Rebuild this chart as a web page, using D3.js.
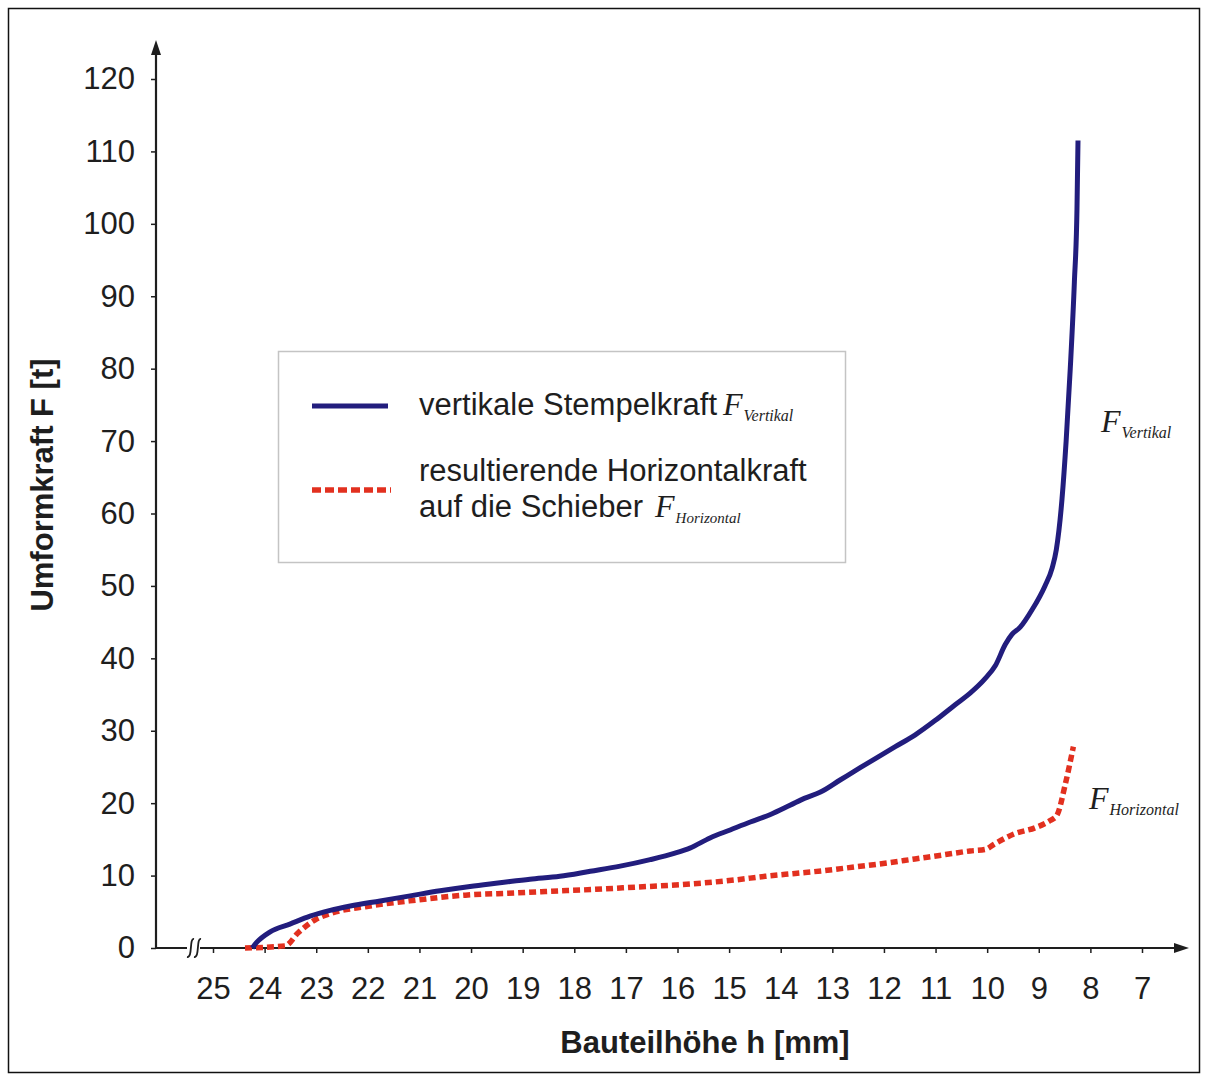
<!DOCTYPE html>
<html>
<head>
<meta charset="utf-8">
<script src="https://cdn.jsdelivr.net/npm/d3@7/dist/d3.min.js"></script>
<style>
  html, body { margin: 0; padding: 0; background: #fff; }
  svg { display: block; }
  .sans { font-family: "Liberation Sans", Arial, Helvetica, sans-serif; fill: #1e1e1e; }
  .serif { font-family: "Liberation Serif", "Times New Roman", serif; font-style: italic; fill: #1e1e1e; }
</style>
</head>
<body>
<script>
// Bauteilhöhe h [mm] and vertical punch force F [t]
const hVertikal = [24.24, 24.15, 23.90, 23.51, 23.12, 22.73, 22.34, 21.76, 21.18, 20.60, 20.02,
  19.44, 18.86, 18.28, 17.69, 17.11, 16.53, 16.05, 15.76, 15.37, 14.98, 14.59, 14.21, 13.82,
  13.53, 13.24, 12.85, 12.46, 12.11, 11.78, 11.40, 11.01, 10.62, 10.33, 10.04, 9.84, 9.65,
  9.52, 9.36, 9.13, 8.88, 8.74, 8.66, 8.55, 8.47, 8.39, 8.31, 8.26, 8.24];
const fVertikal = [0, 0.8, 2.2, 3.3, 4.4, 5.2, 5.8, 6.5, 7.2, 7.9, 8.5,
  9.0, 9.5, 9.9, 10.6, 11.3, 12.2, 13.1, 13.8, 15.2, 16.3, 17.4, 18.4, 19.7,
  20.7, 21.5, 23.2, 24.9, 26.4, 27.8, 29.4, 31.4, 33.6, 35.2, 37.2, 39.0, 41.9,
  43.3, 44.3, 46.7, 50.0, 52.5, 55.0, 62.0, 70.0, 80.0, 92.0, 102.0, 111.5];

// Bauteilhöhe h [mm] and resulting horizontal force on the slides F [t]
const hHorizontal = [24.38, 23.60, 23.35, 23.02, 22.71, 22.05, 21.08, 20.11, 19.15, 18.56,
  17.59, 16.82, 16.05, 15.47, 14.88, 14.30, 13.72, 13.14, 12.56, 11.98, 11.40, 10.81,
  10.33, 10.04, 9.85, 9.46, 9.07, 8.78, 8.65, 8.49, 8.33];
const fHorizontal = [0, 0.3, 2.1, 3.9, 4.8, 5.7, 6.6, 7.3, 7.6, 7.8,
  8.1, 8.4, 8.7, 9.0, 9.4, 9.9, 10.3, 10.7, 11.2, 11.7, 12.3, 12.9,
  13.4, 13.6, 14.4, 15.8, 16.6, 17.6, 18.3, 22.5, 27.8];

const xTicks = [25, 24, 23, 22, 21, 20, 19, 18, 17, 16, 15, 14, 13, 12, 11, 10, 9, 8, 7];
const yTicks = [0, 10, 20, 30, 40, 50, 60, 70, 80, 90, 100, 110, 120];

const W = 1208, H = 1081;
const ink = "#1e1e1e";
const blue = "#221d7d";
const red = "#e2301f";
const fs = 31;

const svg = d3.select("body").append("svg").attr("width", W).attr("height", H);

// outer frame
svg.append("rect").attr("x", 8.5).attr("y", 8.5).attr("width", 1191).attr("height", 1064)
  .attr("fill", "none").attr("stroke", "#111").attr("stroke-width", 1.5);

const x = d3.scaleLinear().domain([25, 7]).range([213, 1142]);
const y = d3.scaleLinear().domain([0, 120]).range([948, 79]);
const x0 = 156, y0 = 948;

// y axis
const yAxis = svg.append("g").attr("transform", `translate(${x0},0)`)
  .call(d3.axisLeft(y).tickValues(yTicks).tickSize(5).tickPadding(16));
yAxis.select(".domain").remove();
yAxis.selectAll(".tick line").attr("stroke", ink).attr("stroke-width", 1.5);
yAxis.selectAll(".tick text").attr("class", "sans").attr("font-size", fs).attr("fill", ink);
svg.append("line").attr("x1", x0).attr("x2", x0).attr("y1", y0 + 1).attr("y2", 52)
  .attr("stroke", ink).attr("stroke-width", 2.2);
svg.append("path").attr("d", `M${x0},40 L${x0 - 5},55 L${x0 + 5},55 Z`).attr("fill", ink);

// x axis
const xAxis = svg.append("g").attr("transform", `translate(0,${y0})`)
  .call(d3.axisBottom(x).tickValues(xTicks).tickFormat(d3.format("d")).tickSize(5).tickPadding(24));
xAxis.select(".domain").remove();
xAxis.selectAll(".tick line").attr("stroke", ink).attr("stroke-width", 1.5);
xAxis.selectAll(".tick text").attr("class", "sans").attr("font-size", fs).attr("fill", ink);
svg.append("line").attr("x1", x0 - 1).attr("x2", 1176).attr("y1", y0).attr("y2", y0)
  .attr("stroke", ink).attr("stroke-width", 2.2);
svg.append("path").attr("d", `M1189,${y0} L1174,${y0 - 5} L1174,${y0 + 5} Z`).attr("fill", ink);

// axis break marks
svg.append("rect").attr("x", 187).attr("y", y0 - 2).attr("width", 13).attr("height", 4).attr("fill", "#fff");
[190, 197].forEach(bx => {
  svg.append("path")
    .attr("d", `M${bx + 4},${y0 - 9} C${bx - 1},${y0 - 10} ${bx + 3},${y0 + 10} ${bx - 3},${y0 + 9}`)
    .attr("fill", "none").attr("stroke", ink).attr("stroke-width", 1.8);
});

// axis titles
svg.append("text").attr("class", "sans").attr("font-size", fs).attr("font-weight", "bold")
  .attr("text-anchor", "middle").attr("x", 705).attr("y", 1053).text("Bauteilhöhe h [mm]");
svg.append("text").attr("class", "sans").attr("font-size", fs).attr("font-weight", "bold")
  .attr("text-anchor", "middle").attr("transform", "translate(53,485) rotate(-90)")
  .text("Umformkraft F [t]");

// curves
const line = d3.line().x(d => x(d[0])).y(d => y(d[1])).curve(d3.curveMonotoneX);
const vertData = hVertikal.map((h, i) => [h, fVertikal[i]]);
const horData = hHorizontal.map((h, i) => [h, fHorizontal[i]]);

svg.append("path").datum(horData).attr("d", line).attr("fill", "none")
  .attr("stroke", red).attr("stroke-width", 5.5).attr("stroke-dasharray", "7,4");
svg.append("path").datum(vertData).attr("d", line).attr("fill", "none")
  .attr("stroke", blue).attr("stroke-width", 5).attr("stroke-linejoin", "round");

// legend
const lg = svg.append("g");
lg.append("rect").attr("x", 278.5).attr("y", 351.5).attr("width", 567).attr("height", 211)
  .attr("fill", "#fff").attr("stroke", "#c4c4c4").attr("stroke-width", 1.5);
lg.append("line").attr("x1", 312).attr("x2", 388).attr("y1", 406).attr("y2", 406)
  .attr("stroke", blue).attr("stroke-width", 5);
lg.append("line").attr("x1", 312).attr("x2", 391).attr("y1", 490).attr("y2", 490)
  .attr("stroke", red).attr("stroke-width", 5.5).attr("stroke-dasharray", "9,4");

function fLabel(g, xPos, yPos, sub, fSize, sSize) {
  const t = g.append("text").attr("class", "serif").attr("x", xPos).attr("y", yPos);
  t.append("tspan").attr("font-size", fSize).text("F");
  t.append("tspan").attr("font-size", sSize).attr("dx", 1).attr("dy", 6).text(sub);
}

lg.append("text").attr("class", "sans").attr("font-size", fs).attr("x", 419).attr("y", 415)
  .text("vertikale Stempelkraft");
fLabel(lg, 723, 415, "Vertikal", 32, 16);
lg.append("text").attr("class", "sans").attr("font-size", fs).attr("x", 419).attr("y", 481)
  .text("resultierende Horizontalkraft");
lg.append("text").attr("class", "sans").attr("font-size", fs).attr("x", 419).attr("y", 517)
  .text("auf die Schieber");
fLabel(lg, 655, 517, "Horizontal", 32, 15);

// curve labels
fLabel(svg, 1101, 432, "Vertikal", 32, 16);
fLabel(svg, 1089, 809, "Horizontal", 32, 16);
</script>
</body>
</html>
